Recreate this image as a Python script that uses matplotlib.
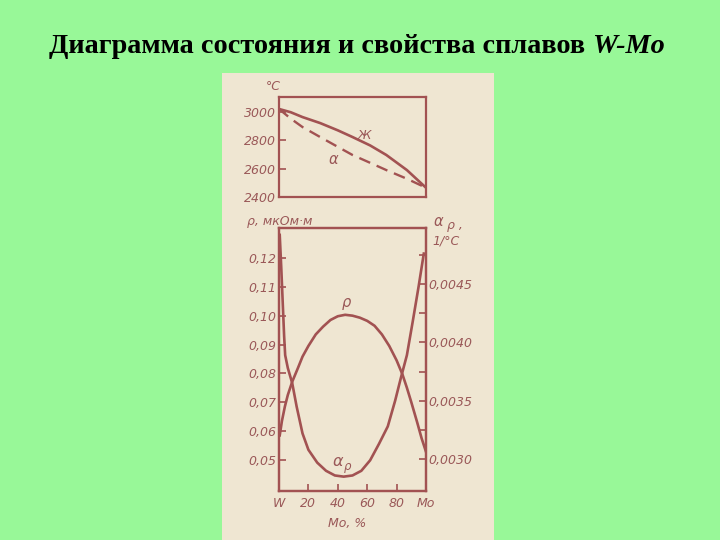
import numpy as np
import matplotlib
matplotlib.use("Agg")
import matplotlib.pyplot as plt

# --- data ---
# top panel: liquidus (solid, "Ж") and solidus (dashed, alpha), deg C vs % Mo
liq_x = [0, 8, 16, 28, 40, 50, 62, 73, 87, 100]
liq_t = [3018, 2995, 2961, 2919, 2868, 2821, 2762, 2695, 2589, 2465]
sol_x = [0, 8, 16, 28, 40, 50, 62, 73, 87, 100]
sol_t = [3018, 2950, 2891, 2821, 2752, 2695, 2640, 2589, 2528, 2465]

# bottom panel: resistivity rho (left axis) and temp. coefficient alpha_rho (right axis)
rho_x = [0.5, 2, 4, 6, 9, 13, 16, 20, 25, 30, 35, 40, 45, 50, 55, 60, 65, 70, 75, 80, 84, 87, 90, 94, 97, 100]
rho_v = [0.0585, 0.0635, 0.0685, 0.0725, 0.0771, 0.0820, 0.0858, 0.0895, 0.0935, 0.0962, 0.0985,
         0.0998, 0.1003, 0.1000, 0.0993, 0.0982, 0.0965, 0.0935, 0.0895, 0.0845, 0.0796, 0.0750,
         0.0700, 0.0630, 0.0575, 0.0528]
arho_x = [0.5, 1.5, 2.5, 3.5, 4.2, 6, 9, 12, 16, 20, 26, 32, 38, 44, 50, 56, 62, 68, 74, 79, 83, 87, 91, 95, 98.5]
arho_v = [0.00492, 0.00465, 0.00435, 0.00405, 0.00389, 0.00378, 0.00365, 0.00345, 0.00322, 0.00308,
          0.00297, 0.00290, 0.00286, 0.00285, 0.00286, 0.00290, 0.00299, 0.00313, 0.00328, 0.00350,
          0.00370, 0.00389, 0.00418, 0.00448, 0.00476]

t_ticks = [2400, 2600, 2800, 3000]
rho_ticks = [0.05, 0.06, 0.07, 0.08, 0.09, 0.10, 0.11, 0.12]
rho_labels = ['0,05', '0,06', '0,07', '0,08', '0,09', '0,10', '0,11', '0,12']
arho_major = [0.0030, 0.0035, 0.0040, 0.0045]
arho_labels = ['0,0030', '0,0035', '0,0040', '0,0045']
arho_minor = [0.00325, 0.00375, 0.00425, 0.00475]
x_ticks = [0, 20, 40, 60, 80, 100]
x_labels = ['W', '20', '40', '60', '80', 'Mo']

green = '#98f898'
paper = '#efe6d2'
ink = '#a25252'
txt = '#9a5858'
tfont = dict(family='DejaVu Sans', style='italic', size=9, color=txt)

fig = plt.figure(figsize=(7.2, 5.4), dpi=100)
fig.patch.set_facecolor(green)

# scanned page as a background axes
bg = fig.add_axes([222/720, 0, 272/720, 1 - 73/540])
bg.set_facecolor(paper)
bg.set_xticks([])
bg.set_yticks([])
for s in bg.spines.values():
    s.set_visible(False)
bg.set_zorder(-5)

fig.text(592/720, 1 - 53/540, 'Диаграмма состояния и свойства сплавов ', ha='right', va='baseline',
         family='Liberation Serif', weight='bold', size=20.3)
fig.text(592/720, 1 - 53/540, 'W-Mo', ha='left', va='baseline',
         family='Liberation Serif', weight='bold', style='italic', size=20.3)

def style(ax):
    ax.set_facecolor('none')
    for s in ax.spines.values():
        s.set_color(ink)
        s.set_linewidth(1.6)
    ax.tick_params(direction='in', color=ink, width=1.2, length=5, pad=2)

# top panel
ax1 = fig.add_axes([279/720, 1 - 197/540, 147/720, 100/540])
style(ax1)
ax1.plot(liq_x, liq_t, color=ink, lw=1.9)
ax1.plot(sol_x, sol_t, color=ink, lw=1.7, ls=(0, (5, 3)))
ax1.set_xlim(0, 100)
ax1.set_ylim(2400, 3102)
ax1.set_xticks([])
ax1.set_yticks(t_ticks)
ax1.set_yticklabels([str(t) for t in t_ticks], **tfont)
ax1.text(58, 2835, 'Ж', ha='center', va='center', **tfont)
ax1.text(37, 2660, 'α', ha='center', va='center', family='DejaVu Sans', style='italic', size=10.5, color=txt)
fig.text(273/720, 1 - 86/540, '°C', ha='center', va='center', **tfont)

# bottom panel
ax2 = fig.add_axes([279/720, 1 - 491/540, 147/720, 263/540])
style(ax2)
ax2.plot(rho_x, rho_v, color=ink, lw=1.9)
ax2.set_xlim(0, 100)
ax2.set_ylim(0.0392, 0.1304)
ax2.set_yticks(rho_ticks)
ax2.set_yticklabels(rho_labels, **tfont)
ax2.set_xticks(x_ticks)
ax2.set_xticklabels(x_labels, **tfont)
ax2.tick_params(axis='x', pad=4)

ax3 = ax2.twinx()
style(ax3)
ax3.plot(arho_x, arho_v, color=ink, lw=1.9)
ax3.set_ylim(0.002727, 0.004979)
ax3.set_yticks(arho_major)
ax3.set_yticklabels(arho_labels, **tfont)
ax3.set_yticks(arho_minor, minor=True)
ax3.tick_params(which='minor', direction='in', color=ink, width=1.2, length=5)

ax2.text(46, 0.1045, 'ρ', ha='center', va='center', family='DejaVu Sans', style='italic', size=10.5, color=txt)
ax2.text(40, 0.0495, 'α', ha='center', va='center', family='DejaVu Sans', style='italic', size=11.5, color=txt)
ax2.text(46.5, 0.0476, 'ρ', ha='center', va='center', family='DejaVu Sans', style='italic', size=8.5, color=txt)

fig.text(280/720, 1 - 222/540, 'ρ, мкОм·м', ha='center', va='center', **tfont)
fig.text(434/720, 1 - 221/540, 'α', ha='left', va='center', family='DejaVu Sans', style='italic', size=10.5, color=txt)
fig.text(447/720, 1 - 225/540, 'ρ ,', ha='left', va='center', **tfont)
fig.text(446/720, 1 - 241/540, '1/°C', ha='center', va='center', **tfont)
fig.text(347/720, 1 - 523/540, 'Mo, %', ha='center', va='center', **tfont)

fig.savefig('out.png', dpi=100, facecolor=fig.get_facecolor())
